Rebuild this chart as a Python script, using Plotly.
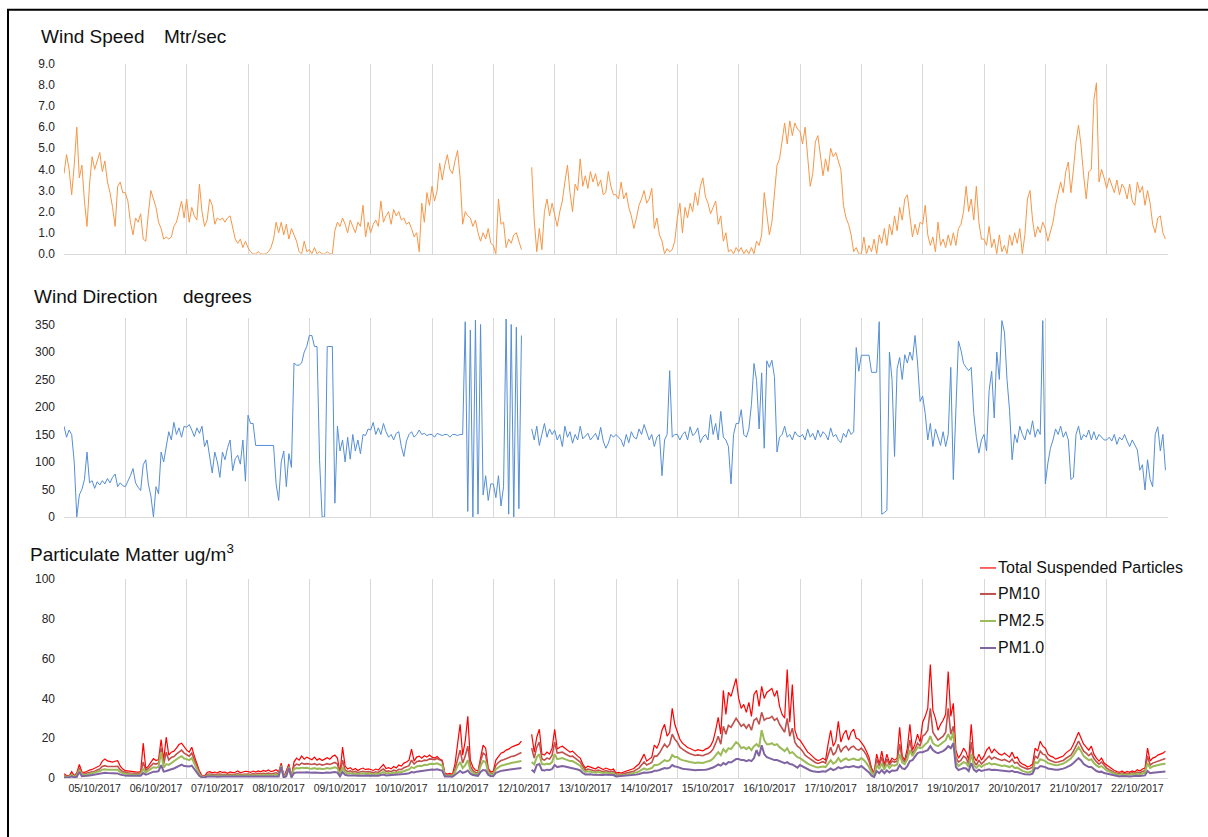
import plotly.graph_objects as go
import pandas as pd

# ---------------- data (hourly readings, one list per day, 05/10/2017 .. 22/10/2017) ----------------
wind_speed_days = [
    [3.8, 4.7, 4.0, 2.8, 4.2, 6.0, 3.6, 4.2, 2.5, 1.3, 3.3, 4.6, 4.0, 4.4, 4.8, 3.9, 4.4, 3.4, 2.9, 2.2, 1.3, 3.2, 3.4, 2.9],
    [2.9, 2.5, 1.5, 0.9, 1.7, 1.5, 1.9, 0.7, 0.6, 1.9, 3.0, 2.6, 2.2, 1.5, 1.2, 0.7, 0.8, 0.7, 0.8, 1.3, 1.5, 2.0, 2.5, 1.7],
    [2.6, 1.5, 2.2, 1.8, 1.6, 3.3, 2.0, 1.3, 1.6, 2.6, 2.3, 1.4, 1.7, 1.6, 1.7, 1.5, 1.7, 1.8, 1.2, 0.7, 0.5, 0.7, 0.3, 0.6],
    [0.3, 0.1, 0.0, 0.0, 0.1, 0.0, 0.0, 0.0, 0.1, 0.3, 0.7, 1.5, 1.0, 1.5, 0.9, 1.4, 0.7, 1.2, 0.9, 0.6, 0.1, 0.0, 0.6, 0.1],
    [0.2, 0.0, 0.3, 0.0, 0.1, 0.0, 0.0, 0.1, 0.0, 0.0, 1.1, 1.5, 1.3, 1.7, 1.4, 1.0, 1.6, 1.3, 1.0, 1.5, 1.3, 2.3, 0.8, 1.5],
    [1.0, 1.4, 1.6, 1.3, 2.5, 1.5, 1.8, 2.0, 1.4, 2.1, 1.8, 2.0, 1.6, 1.7, 1.4, 1.5, 1.2, 0.8, 1.0, 0.1, 2.4, 1.5, 2.9, 2.3],
    [3.2, 2.5, 3.0, 4.3, 3.5, 4.2, 4.7, 4.0, 3.8, 4.4, 4.9, 3.6, 1.4, 2.0, 1.8, 1.7, 1.3, 1.6, 1.0, 0.6, 1.0, 0.7, 1.2, 0.5],
    [0.4, 0.0, 2.6, 1.4, 1.5, 0.3, 0.7, 0.5, 0.9, 1.0, 0.6, 0.2, None, None, None, 4.1, 1.6, 0.1, 1.2, 0.2, 2.0, 2.6, 1.8, 2.4],
    [1.9, 1.3, 2.0, 2.5, 3.4, 4.2, 2.9, 2.0, 3.3, 3.0, 4.5, 3.2, 3.7, 3.1, 3.9, 3.4, 3.8, 3.2, 3.5, 2.8, 2.9, 3.9, 3.2, 2.8],
    [2.8, 2.6, 3.4, 2.6, 2.9, 2.2, 1.8, 1.2, 1.7, 2.3, 2.6, 3.0, 2.4, 2.6, 3.1, 1.2, 1.7, 0.9, 0.6, 0.0, 0.25, 0.1, 0.2, 0.6],
    [1.7, 2.4, 1.0, 2.2, 1.7, 2.4, 2.0, 2.9, 2.3, 3.2, 3.6, 2.7, 2.4, 1.9, 2.2, 2.5, 1.4, 1.8, 0.6, 1.0, 0.1, 0.2, 0.0, 0.3],
    [0.1, 0.3, 0.0, 0.2, 0.0, 0.3, 0.0, 0.6, 0.4, 0.9, 2.9, 1.8, 0.9, 1.5, 3.0, 4.2, 4.5, 5.4, 6.2, 5.2, 6.3, 5.6, 6.2, 5.9],
    [5.8, 5.2, 6.0, 4.6, 3.2, 3.8, 5.3, 5.6, 4.7, 3.7, 4.5, 3.9, 5.0, 4.6, 4.8, 4.4, 4.0, 2.3, 1.7, 1.4, 0.9, 0.1, 0.3, 0.0],
    [0.0, 0.8, 0.0, 0.4, 0.1, 0.7, 0.0, 0.9, 0.5, 1.2, 0.4, 1.4, 0.9, 1.8, 1.1, 2.2, 1.6, 2.6, 2.8, 1.8, 0.8, 1.4, 0.9, 1.5],
    [1.4, 2.3, 0.9, 0.4, 0.8, 0.1, 1.5, 0.4, 0.7, 0.3, 0.9, 0.4, 1.0, 0.4, 1.2, 1.4, 2.0, 3.2, 2.0, 2.6, 1.6, 3.2, 1.5, 0.7],
    [0.7, 0.4, 1.3, 0.3, 0.7, 0.0, 0.9, 0.1, 0.4, 0.0, 0.9, 0.4, 1.0, 0.5, 1.2, 0.0, 0.9, 2.6, 3.0, 1.6, 0.8, 1.3, 1.0, 1.5],
    [1.2, 0.6, 1.0, 1.5, 2.3, 2.9, 3.4, 2.9, 3.9, 4.35, 2.9, 4.0, 5.3, 6.1, 5.1, 3.7, 2.6, 3.9, 4.0, 7.3, 8.1, 3.4, 4.0, 3.6],
    [3.1, 3.6, 3.2, 2.9, 3.5, 2.8, 3.3, 3.1, 2.6, 3.3, 2.5, 2.3, 3.4, 2.9, 3.2, 2.3, 3.0, 2.4, 1.4, 1.0, 1.7, 1.8, 1.0, 0.7],
]

wind_dir_days = [
    [165, 145, 158, 150, 100, 0, 40, 50, 68, 118, 62, 66, 52, 64, 58, 66, 60, 70, 62, 72, 78, 55, 62, 57],
    [55, 64, 75, 88, 62, 54, 48, 95, 104, 60, 38, 0, 55, 42, 118, 100, 128, 155, 140, 172, 150, 162, 145, 165],
    [163, 168, 158, 146, 162, 152, 165, 128, 140, 112, 80, 118, 100, 72, 118, 104, 126, 140, 84, 106, 112, 96, 140, 65],
    [185, 170, 170, 130, 130, 130, 130, 130, 130, 130, 130, 60, 30, 100, 120, 55, 115, 90, 280, 276, 276, 280, 300, 310],
    [330, 330, 310, 310, 104, 0, 0, 310, 310, 310, 25, 165, 120, 140, 100, 145, 105, 150, 120, 140, 115, 150, 148, 160],
    [158, 172, 150, 162, 150, 170, 155, 145, 150, 140, 152, 155, 128, 110, 138, 150, 155, 145, 150, 158, 150, 152, 148, 150],
    [150, 145, 152, 150, 148, 150, 150, 145, 150, 150, 148, 150, 150, 355, 10, 340, 0, 358, 5, 350, 40, 75, 30, 60],
    [60, 35, 75, 20, 55, 360, 5, 350, 0, 345, 15, 330, None, None, None, 160, 140, 165, 130, 150, 170, 145, 160, 150],
    [158, 140, 150, 128, 165, 145, 155, 134, 150, 140, 165, 142, 148, 152, 140, 146, 152, 140, 163, 138, 125, 134, 150, 145],
    [150, 145, 140, 128, 150, 135, 155, 145, 142, 160, 150, 168, 155, 140, 150, 128, 145, 150, 75, 140, 150, 266, 145, 150],
    [150, 140, 150, 155, 140, 164, 148, 152, 162, 135, 145, 150, 140, 186, 150, 170, 140, 192, 145, 140, 128, 60, 150, 170],
    [170, 195, 150, 145, 160, 205, 279, 248, 160, 262, 125, 284, 272, 285, 255, 118, 145, 150, 165, 145, 150, 140, 155, 148],
    [146, 150, 140, 160, 145, 152, 140, 158, 145, 155, 150, 140, 162, 146, 150, 140, 135, 152, 145, 160, 150, 155, 308, 265],
    [294, 294, 294, 294, 263, 263, 263, 355, 5, 8, 12, 300, 250, 110, 270, 290, 250, 295, 280, 300, 285, 330, 280, 210],
    [220, 188, 140, 170, 128, 160, 145, 130, 155, 128, 150, 272, 68, 188, 320, 303, 279, 272, 266, 272, 188, 145, 116, 140],
    [150, 120, 230, 265, 180, 300, 250, 357, 336, 250, 194, 104, 150, 135, 165, 150, 140, 160, 150, 175, 145, 160, 150, 357],
    [60, 98, 125, 140, 160, 150, 165, 145, 155, 140, 68, 72, 150, 165, 140, 150, 145, 158, 140, 155, 140, 150, 145, 140],
    [140, 145, 138, 150, 132, 145, 140, 150, 138, 128, 140, 132, 122, 85, 95, 49, 104, 68, 55, 150, 164, 120, 150, 85],
]

tsp_days = [
    [2.2, 1.3, 1.0, 3.2, 1.2, 2.5, 6.8, 3.0, 2.8, 3.5, 4.0, 4.3, 4.8, 5.5, 6.2, 8.5, 9.6, 8.6, 8.3, 8.0, 8.4, 8.7, 6.0, 4.5],
    [3.7, 3.5, 3.3, 3.0, 3.1, 3.0, 3.2, 17.5, 4.7, 6.0, 8.0, 9.7, 8.8, 9.3, 19.3, 9.0, 20.5, 11.5, 13.0, 13.5, 15.0, 16.8, 17.5, 15.5],
    [14.0, 13.0, 15.5, 11.0, 7.0, 3.5, 1.2, 1.0, 2.8, 3.2, 2.6, 3.0, 2.5, 3.3, 2.8, 3.0, 2.4, 3.1, 2.7, 2.9, 3.5, 2.6, 3.0, 3.4],
    [3.2, 2.8, 3.5, 3.0, 3.6, 3.1, 3.8, 3.4, 4.0, 3.2, 3.6, 4.2, 3.0, 7.5, 0.5, 3.5, 7.0, 1.0, 8.0, 10.0, 9.0, 11.0, 9.5, 10.5],
    [10.0, 9.2, 10.5, 9.0, 9.8, 8.8, 9.5, 10.2, 9.4, 10.8, 11.5, 10.0, 2.5, 15.5, 6.0, 4.5, 5.2, 4.0, 4.8, 3.8, 4.5, 5.0, 4.2, 4.6],
    [4.3, 3.8, 4.5, 4.0, 5.5, 6.8, 4.8, 5.2, 4.6, 5.8, 5.0, 6.5, 6.0, 7.5, 8.0, 9.0, 14.5, 8.5, 10.5, 11.0, 10.0, 11.2, 10.5, 11.5],
    [10.5, 10.0, 10.8, 9.5, 9.0, 2.5, 2.0, 2.3, 1.8, 7.0, 17.0, 27.0, 11.5, 18.5, 31.0, 9.0, 5.5, 4.0, 3.5, 11.0, 16.5, 15.0, 5.0, 3.0],
    [3.5, 9.0, 11.0, 12.5, 13.0, 14.0, 14.5, 15.5, 16.0, 16.5, 17.0, 18.5, None, None, None, 22.0, 13.0, 20.5, 24.5, 12.0, 11.5, 13.0, 12.0, 15.0],
    [24.5, 14.5, 15.5, 16.0, 15.0, 14.0, 13.0, 13.5, 12.0, 11.0, 10.0, 7.0, 5.0, 6.0, 5.5, 5.0, 4.5, 5.5, 4.8, 4.2, 5.0, 4.5, 4.0, 4.5],
    [2.5, 2.8, 2.5, 3.0, 3.5, 4.0, 4.3, 4.8, 6.0, 7.0, 9.5, 12.0, 8.5, 9.5, 10.5, 16.5, 15.0, 18.0, 24.0, 27.0, 21.0, 23.0, 35.0, 27.0],
    [23.0, 19.5, 17.5, 16.5, 15.3, 14.8, 14.0, 13.6, 14.2, 13.8, 13.6, 14.5, 15.0, 16.2, 18.7, 24.0, 30.5, 22.0, 44.0, 32.0, 43.0, 41.0, 45.0, 50.0],
    [40.0, 35.0, 37.0, 33.0, 38.0, 31.0, 42.0, 44.0, 36.0, 46.0, 40.0, 43.0, 44.0, 45.0, 41.0, 44.0, 36.0, 32.0, 30.0, 54.5, 28.0, 47.0, 24.0, 20.0],
    [19.0, 17.0, 14.5, 13.0, 12.0, 10.5, 9.5, 8.8, 9.2, 10.0, 9.0, 17.0, 24.0, 16.0, 18.5, 28.5, 18.0, 22.0, 24.0, 19.0, 23.0, 24.5, 20.0, 19.5],
    [18.0, 16.0, 13.5, 10.5, 5.0, 2.5, 12.0, 7.0, 13.5, 6.5, 12.0, 7.5, 10.0, 9.0, 10.0, 25.5, 11.0, 9.0, 15.0, 27.0, 14.0, 17.0, 22.0, 18.0],
    [28.0, 31.0, 35.0, 57.0, 34.0, 30.0, 24.0, 27.0, 29.0, 32.0, 53.5, 31.0, 37.5, 14.0, 10.0, 12.0, 15.0, 13.0, 9.0, 27.0, 11.0, 8.5, 12.0, 9.0],
    [11.0, 14.0, 15.5, 12.5, 14.5, 13.0, 12.0, 11.5, 12.5, 11.5, 10.5, 13.0, 10.0, 10.5, 8.0, 7.0, 6.5, 5.5, 6.0, 7.0, 15.0, 13.5, 18.5, 16.0],
    [15.0, 12.0, 11.0, 10.5, 9.5, 10.0, 10.5, 11.0, 12.5, 13.5, 14.5, 17.0, 20.5, 23.0, 20.0, 17.0, 15.5, 14.0, 16.0, 12.0, 10.0, 8.5, 10.0, 7.5],
    [6.5, 5.5, 4.5, 3.8, 3.2, 2.8, 3.5, 2.6, 3.3, 2.9, 3.6, 3.0, 4.2, 3.5, 4.5, 5.0, 15.0, 8.5, 10.0, 10.5, 11.5, 12.0, 12.5, 13.5],
]

pm10_days = [
    [1.2, 0.8, 0.6, 2.2, 0.8, 1.8, 5.0, 2.0, 2.0, 2.5, 2.8, 3.0, 3.4, 4.0, 4.6, 5.8, 6.2, 5.8, 5.7, 5.6, 5.8, 5.9, 4.2, 3.2],
    [2.8, 2.6, 2.5, 2.3, 2.4, 2.3, 2.5, 8.0, 3.8, 4.8, 6.2, 7.3, 7.0, 7.5, 15.0, 7.0, 13.0, 9.0, 10.3, 10.8, 12.0, 13.2, 14.0, 12.5],
    [11.8, 11.0, 12.5, 9.0, 5.5, 2.5, 0.8, 0.6, 1.8, 2.0, 1.7, 1.9, 1.6, 2.0, 1.8, 1.9, 1.6, 1.9, 1.7, 1.8, 2.1, 1.7, 1.9, 2.1],
    [2.0, 1.8, 2.2, 1.9, 2.3, 2.0, 2.4, 2.1, 2.5, 2.0, 2.3, 2.6, 2.0, 6.5, 0.4, 2.5, 6.0, 0.8, 6.0, 7.0, 6.5, 7.5, 7.0, 7.2],
    [7.0, 6.8, 7.2, 6.6, 7.0, 6.5, 6.8, 7.2, 6.8, 7.3, 7.8, 7.0, 2.0, 9.0, 4.0, 3.2, 3.6, 2.9, 3.3, 2.8, 3.1, 3.4, 3.0, 3.2],
    [3.0, 2.7, 3.1, 2.8, 3.8, 4.5, 3.3, 3.6, 3.2, 4.0, 3.5, 4.4, 4.2, 5.2, 5.6, 6.2, 9.0, 7.0, 8.2, 8.6, 8.3, 9.0, 8.8, 9.6],
    [9.5, 9.2, 9.8, 9.0, 8.5, 1.8, 1.4, 1.6, 1.3, 4.5, 10.0, 14.0, 7.5, 11.0, 16.0, 6.0, 3.8, 2.8, 2.5, 8.5, 12.5, 11.5, 3.8, 2.2],
    [2.5, 6.5, 7.8, 8.8, 9.2, 9.8, 10.2, 10.8, 11.0, 11.5, 12.0, 12.8, None, None, None, 15.0, 10.0, 15.5, 18.0, 9.5, 9.0, 10.0, 9.5, 11.5],
    [18.0, 12.5, 12.8, 13.0, 12.2, 11.5, 10.8, 11.0, 9.8, 9.0, 8.0, 5.5, 3.8, 4.5, 4.2, 3.8, 3.4, 4.0, 3.6, 3.2, 3.7, 3.4, 3.0, 3.3],
    [1.8, 2.0, 1.8, 2.2, 2.5, 2.8, 3.0, 3.4, 4.2, 5.0, 6.5, 8.0, 6.5, 7.2, 7.8, 11.0, 11.0, 12.5, 15.0, 17.0, 15.5, 17.0, 22.0, 19.5],
    [18.0, 15.5, 14.5, 13.5, 12.8, 12.2, 11.6, 11.3, 11.6, 11.4, 11.2, 11.8, 12.2, 13.0, 14.5, 17.5, 21.0, 17.0, 26.0, 22.0, 26.5, 25.5, 27.5, 30.0],
    [28.0, 26.0, 27.0, 25.0, 27.0, 24.0, 29.0, 30.0, 27.0, 33.0, 29.0, 30.0, 30.0, 31.0, 29.0, 30.0, 27.0, 25.0, 23.0, 30.0, 21.0, 25.0, 18.0, 16.0],
    [15.0, 13.5, 11.5, 10.5, 9.5, 8.5, 7.8, 7.3, 7.6, 8.2, 7.5, 12.0, 15.5, 11.5, 13.0, 17.0, 13.0, 15.0, 16.0, 14.0, 15.5, 16.0, 14.5, 14.0],
    [15.0, 13.5, 11.5, 8.5, 4.0, 2.0, 9.5, 6.0, 10.5, 5.5, 9.5, 6.5, 8.5, 8.0, 8.5, 17.0, 9.5, 8.0, 12.0, 19.0, 12.0, 14.5, 17.5, 16.0],
    [21.0, 22.0, 24.0, 35.0, 23.0, 21.0, 19.0, 20.0, 21.0, 23.0, 35.0, 22.0, 26.0, 10.5, 8.0, 9.0, 11.0, 10.0, 7.0, 18.0, 8.5, 6.5, 9.0, 7.0],
    [8.5, 10.0, 11.0, 9.5, 10.5, 9.8, 9.2, 8.8, 9.3, 8.7, 8.0, 9.5, 7.5, 7.8, 6.2, 5.5, 5.0, 4.5, 4.8, 5.5, 11.0, 10.0, 13.5, 12.0],
    [11.5, 9.5, 8.8, 8.4, 7.8, 8.0, 8.4, 8.8, 9.8, 10.5, 11.5, 13.5, 16.0, 18.5, 16.0, 13.5, 12.5, 11.2, 12.5, 9.8, 8.2, 7.0, 8.0, 6.2],
    [5.0, 4.2, 3.4, 2.8, 2.4, 2.1, 2.6, 2.0, 2.4, 2.2, 2.7, 2.3, 3.0, 2.6, 3.3, 3.6, 11.0, 6.5, 7.5, 8.0, 8.5, 9.0, 9.2, 9.8],
]

pm25_days = [
    [0.8, 0.6, 0.5, 1.6, 0.6, 1.3, 4.0, 1.6, 1.5, 1.8, 2.1, 2.3, 2.6, 3.0, 3.5, 4.2, 4.4, 4.2, 4.1, 4.0, 4.1, 4.2, 3.0, 2.4],
    [2.0, 1.9, 1.8, 1.7, 1.8, 1.7, 1.9, 4.5, 2.8, 3.5, 4.6, 5.4, 5.2, 5.6, 13.0, 5.2, 7.0, 6.6, 7.6, 8.2, 9.3, 10.3, 11.0, 9.8],
    [9.5, 9.0, 10.0, 7.0, 4.2, 1.8, 0.6, 0.5, 1.2, 1.4, 1.2, 1.3, 1.1, 1.4, 1.3, 1.3, 1.1, 1.3, 1.2, 1.3, 1.4, 1.2, 1.3, 1.4],
    [1.3, 1.2, 1.4, 1.3, 1.5, 1.3, 1.6, 1.4, 1.6, 1.3, 1.5, 1.7, 1.3, 6.0, 0.3, 1.8, 5.5, 0.6, 4.5, 5.0, 4.8, 5.2, 5.0, 5.1],
    [4.8, 4.7, 5.0, 4.6, 4.8, 4.5, 4.7, 5.0, 4.7, 5.1, 5.4, 4.9, 1.5, 5.5, 2.8, 2.3, 2.5, 2.1, 2.3, 2.0, 2.2, 2.4, 2.1, 2.3],
    [2.1, 1.9, 2.2, 2.0, 2.6, 3.0, 2.3, 2.5, 2.2, 2.8, 2.4, 3.0, 2.9, 3.6, 3.9, 4.3, 5.5, 5.0, 5.8, 6.1, 6.0, 6.6, 6.5, 7.0],
    [7.2, 7.0, 7.4, 6.8, 6.3, 1.3, 1.0, 1.2, 1.0, 3.0, 6.0, 8.0, 5.0, 6.5, 9.0, 4.0, 2.6, 2.0, 1.8, 6.0, 8.5, 8.0, 2.8, 1.6],
    [1.8, 4.5, 5.5, 6.2, 6.5, 7.0, 7.2, 7.5, 7.8, 8.0, 8.3, 8.6, None, None, None, 8.0, 6.8, 10.5, 12.0, 7.0, 6.8, 7.2, 7.0, 8.0],
    [12.0, 9.5, 9.8, 10.0, 9.5, 9.0, 8.5, 8.5, 7.8, 7.0, 6.2, 4.2, 3.0, 3.4, 3.2, 2.9, 2.6, 3.0, 2.7, 2.5, 2.8, 2.6, 2.3, 2.5],
    [1.3, 1.4, 1.3, 1.5, 1.7, 1.9, 2.1, 2.3, 2.8, 3.3, 4.0, 4.8, 4.2, 4.6, 5.0, 6.5, 6.5, 7.0, 8.0, 9.0, 8.5, 9.0, 11.5, 10.5],
    [10.5, 9.5, 9.0, 8.6, 8.3, 8.0, 7.8, 7.6, 7.8, 7.7, 7.6, 8.0, 8.3, 8.8, 9.8, 11.5, 13.0, 11.5, 14.5, 13.0, 15.0, 14.5, 16.0, 18.0],
    [17.0, 15.0, 15.5, 14.5, 15.5, 14.0, 16.0, 17.0, 15.5, 24.0, 19.0, 17.0, 17.0, 17.5, 16.5, 17.0, 15.5, 14.5, 13.5, 15.0, 12.5, 13.0, 11.5, 10.5],
    [10.0, 9.0, 8.0, 7.2, 6.6, 6.0, 5.6, 5.3, 5.5, 5.8, 5.5, 7.5, 9.0, 7.2, 8.0, 10.0, 8.2, 9.2, 9.8, 9.0, 9.5, 9.8, 9.2, 9.0],
    [10.0, 9.0, 7.5, 5.5, 2.8, 1.3, 6.5, 4.5, 7.5, 4.2, 7.0, 5.0, 6.5, 6.2, 6.8, 12.0, 7.8, 7.0, 9.5, 14.0, 11.0, 13.0, 15.5, 15.0],
    [15.5, 17.0, 18.0, 21.0, 17.5, 16.5, 16.0, 17.0, 18.0, 19.0, 22.0, 19.0, 23.0, 8.0, 6.0, 7.0, 8.0, 7.5, 5.5, 12.0, 6.5, 5.0, 6.5, 5.5],
    [6.5, 7.0, 7.5, 6.8, 7.2, 6.8, 6.4, 6.0, 6.3, 5.9, 5.5, 6.2, 5.0, 5.2, 4.2, 3.6, 3.2, 2.8, 3.0, 3.6, 8.0, 7.5, 9.5, 9.0],
    [8.5, 7.5, 7.0, 6.8, 6.4, 6.5, 6.8, 7.2, 8.0, 8.8, 9.8, 11.5, 13.5, 15.5, 13.5, 11.0, 10.0, 9.0, 9.5, 7.5, 6.3, 5.5, 6.0, 4.8],
    [3.8, 3.2, 2.6, 2.1, 1.8, 1.6, 1.9, 1.5, 1.8, 1.6, 2.0, 1.7, 2.2, 1.9, 2.4, 2.6, 7.5, 5.0, 5.8, 6.2, 6.5, 6.8, 7.0, 7.2],
]

pm1_days = [
    [0.3, 0.2, 0.2, 0.8, 0.3, 0.6, 3.0, 0.9, 0.9, 1.1, 1.3, 1.5, 1.7, 1.9, 2.2, 2.5, 2.6, 2.5, 2.5, 2.4, 2.4, 2.3, 1.7, 1.3],
    [1.2, 1.1, 1.1, 1.0, 1.0, 1.0, 1.1, 2.5, 1.7, 2.1, 2.7, 3.2, 3.1, 3.4, 6.5, 3.2, 3.5, 3.8, 4.4, 4.8, 5.5, 6.2, 6.7, 6.0],
    [6.0, 5.8, 6.2, 4.5, 2.6, 1.0, 0.3, 0.3, 0.7, 0.8, 0.7, 0.7, 0.6, 0.8, 0.7, 0.7, 0.6, 0.7, 0.7, 0.7, 0.8, 0.7, 0.7, 0.8],
    [0.7, 0.7, 0.8, 0.7, 0.8, 0.7, 0.9, 0.8, 0.9, 0.7, 0.8, 0.9, 0.7, 5.5, 0.1, 1.0, 5.0, 0.3, 2.5, 2.8, 2.7, 2.9, 2.8, 2.9],
    [2.7, 2.6, 2.8, 2.6, 2.7, 2.5, 2.6, 2.8, 2.6, 2.8, 3.0, 2.7, 0.8, 3.0, 1.6, 1.3, 1.4, 1.2, 1.3, 1.2, 1.3, 1.4, 1.2, 1.3],
    [1.2, 1.1, 1.3, 1.1, 1.5, 1.7, 1.3, 1.4, 1.3, 1.6, 1.4, 1.7, 1.7, 2.0, 2.2, 2.4, 3.0, 2.8, 3.2, 3.4, 3.4, 3.8, 3.8, 4.2],
    [4.3, 4.2, 4.4, 4.0, 3.7, 0.8, 0.6, 0.7, 0.6, 1.5, 2.8, 3.5, 2.6, 3.0, 3.8, 2.2, 1.5, 1.2, 1.1, 3.0, 4.0, 3.8, 1.6, 0.9],
    [1.0, 2.6, 3.2, 3.6, 3.8, 4.0, 4.2, 4.3, 4.5, 4.6, 4.8, 5.0, None, None, None, 4.2, 3.0, 6.5, 7.0, 4.0, 3.8, 4.2, 4.0, 4.5],
    [6.5, 5.5, 5.8, 6.0, 5.8, 5.5, 5.2, 5.2, 4.8, 4.3, 3.8, 2.5, 1.8, 2.0, 1.9, 1.7, 1.6, 1.8, 1.6, 1.5, 1.7, 1.6, 1.4, 1.5],
    [0.8, 0.9, 0.8, 0.9, 1.0, 1.1, 1.2, 1.4, 1.7, 2.0, 2.4, 2.8, 2.6, 2.8, 3.0, 3.6, 3.6, 4.0, 4.5, 5.0, 4.8, 5.2, 6.5, 5.8],
    [5.6, 5.0, 4.7, 4.5, 4.3, 4.1, 4.0, 3.9, 4.0, 4.0, 3.9, 4.2, 4.4, 4.8, 5.3, 6.0, 6.8, 6.2, 7.5, 6.8, 8.0, 7.8, 8.5, 9.5],
    [9.5, 9.0, 9.0, 8.5, 9.0, 8.5, 10.0, 14.0, 11.0, 16.5, 12.0, 10.5, 10.0, 9.5, 9.0, 9.0, 8.5, 8.0, 7.5, 8.0, 7.0, 6.8, 6.0, 5.2],
    [6.5, 5.8, 5.0, 4.3, 3.8, 3.4, 3.2, 3.0, 3.2, 3.4, 3.2, 4.0, 4.8, 4.0, 4.5, 5.5, 4.8, 5.2, 5.8, 5.4, 5.8, 6.0, 5.5, 5.3],
    [6.0, 5.0, 4.0, 2.8, 1.2, 0.5, 3.5, 2.5, 4.0, 2.4, 3.8, 2.8, 3.8, 3.6, 4.0, 6.5, 4.8, 4.5, 6.0, 8.5, 9.0, 11.0, 12.5, 13.0],
    [13.0, 13.5, 14.0, 16.0, 14.0, 13.0, 12.5, 13.0, 13.5, 14.5, 16.0, 15.0, 17.5, 5.5, 4.0, 4.5, 5.0, 4.8, 3.5, 7.5, 4.2, 3.2, 4.2, 3.5],
    [4.0, 4.2, 4.4, 4.0, 4.2, 4.0, 3.8, 3.6, 3.7, 3.5, 3.3, 3.6, 3.0, 3.0, 2.5, 2.2, 1.9, 1.7, 1.8, 2.2, 5.0, 4.8, 6.0, 5.8],
    [5.5, 4.8, 4.5, 4.3, 4.1, 4.2, 4.4, 4.7, 5.2, 5.8, 6.5, 7.6, 8.8, 10.0, 8.8, 7.0, 6.2, 5.5, 5.5, 4.3, 3.5, 3.0, 3.2, 2.5],
    [2.2, 1.8, 1.4, 1.1, 0.9, 0.8, 1.0, 0.8, 0.9, 0.8, 1.0, 0.9, 1.1, 1.0, 1.2, 1.3, 3.5, 2.4, 2.6, 2.8, 3.0, 3.1, 3.2, 3.3],
]

start_date = "2017-10-05"
end_date = "2017-10-23"
series_names = ["Total Suspended Particles", "PM10", "PM2.5", "PM1.0"]
panel_titles = [("Wind Speed", "Mtr/sec"), ("Wind Direction", "degrees"), ("Particulate Matter ug/m<sup>3</sup>", None)]


def flat(days):
    out = []
    for d in days:
        out.extend(d)
    return out


wind_speed = flat(wind_speed_days)
wind_dir = flat(wind_dir_days)
tsp = flat(tsp_days)
pm10 = flat(pm10_days)
pm25 = flat(pm25_days)
pm1 = flat(pm1_days)
times = pd.date_range(start_date, periods=len(wind_speed), freq="h")

# ---------------- styling ----------------
W, H = 1208, 837
FONT = "Liberation Sans, Arial, Helvetica, sans-serif"
GRID = "#D9D9D9"
TXT = "#262626"

# the captured picture maps page rows as: shown = 0.983 * page + 6.2
Y_SCALE, Y_OFF = 0.983, 6.2


def fx(px):
    return px / W


def fy(py):
    page = (py - Y_OFF) / Y_SCALE
    return 1 - page / H


PLOT_L, PLOT_R = 64, 1168
panels = {  # top, bottom pixel rows of each plot area (as seen in the reference)
    1: (63, 253),
    2: (317, 516),
    3: (578, 777),
}

colors = {
    "ws": "#F79646",
    "wd": "#558ED5",
    "tsp": "#FF0000",
    "pm10": "#C0504D",
    "pm25": "#9BBB59",
    "pm1": "#8064A2",
}

fig = go.Figure()
fig.add_trace(go.Scatter(x=times, y=wind_speed, mode="lines", name="Wind Speed",
                         line=dict(color=colors["ws"], width=1), xaxis="x", yaxis="y",
                         connectgaps=False, showlegend=False))
fig.add_trace(go.Scatter(x=times, y=wind_dir, mode="lines", name="Wind Direction",
                         line=dict(color=colors["wd"], width=1), xaxis="x2", yaxis="y2",
                         connectgaps=False, showlegend=False))
for name, vals, col, w in [
    (series_names[0], tsp, colors["tsp"], 1.2),
    (series_names[1], pm10, colors["pm10"], 1.6),
    (series_names[2], pm25, colors["pm25"], 2.0),
    (series_names[3], pm1, colors["pm1"], 2.0),
]:
    fig.add_trace(go.Scatter(x=times, y=vals, mode="lines", name=name,
                             line=dict(color=col, width=w), xaxis="x3", yaxis="y3",
                             connectgaps=False, showlegend=False))

xbase = dict(
    type="date", range=[start_date, end_date], tick0=start_date, dtick=86400000,
    showgrid=True, gridcolor=GRID, gridwidth=1, showline=True, linecolor=GRID, linewidth=1,
    zeroline=False, ticks="", ticklabelmode="period", tickformat="%d/%m/%Y",
    tickfont=dict(family=FONT, size=10.5, color=TXT), domain=[fx(PLOT_L), fx(PLOT_R)],
)
ybase = dict(showgrid=False, zeroline=False, showline=False, ticks="",
             tickfont=dict(family=FONT, size=12, color=TXT), ticklabelstandoff=8)


def ydom(k):
    top, bot = panels[k]
    return [fy(bot), fy(top)]


layout = dict(
    width=W, height=H, autosize=False, margin=dict(l=0, r=0, t=0, b=0, pad=0),
    paper_bgcolor="white", plot_bgcolor="white", showlegend=False,
    font=dict(family=FONT, color=TXT),
    xaxis=dict(xbase, anchor="y", showticklabels=False),
    xaxis2=dict(xbase, anchor="y2", showticklabels=False),
    xaxis3=dict(xbase, anchor="y3", showticklabels=True),
    yaxis=dict(ybase, anchor="x", domain=ydom(1), range=[0, 9], tickvals=list(range(0, 10)),
               tickformat=".1f"),
    yaxis2=dict(ybase, anchor="x2", domain=ydom(2), range=[0, 362], tickvals=list(range(0, 351, 50))),
    yaxis3=dict(ybase, anchor="x3", domain=ydom(3), range=[0, 100], tickvals=list(range(0, 101, 20))),
)
fig.update_layout(**layout)

# panel titles
title_font = dict(family=FONT, size=19, color="#111111")
annots = [
    dict(text=panel_titles[0][0], x=fx(39), y=fy(36)),
    dict(text=panel_titles[0][1], x=fx(162), y=fy(36)),
    dict(text=panel_titles[1][0], x=fx(32), y=fy(296)),
    dict(text=panel_titles[1][1], x=fx(181), y=fy(296)),
    dict(text=panel_titles[2][0], x=fx(28), y=fy(552)),
]
for a in annots:
    fig.add_annotation(xref="paper", yref="paper", xanchor="left", yanchor="middle",
                       showarrow=False, font=title_font, **a)

# manual legend (short line keys)
legend_rows = [(series_names[0], colors["tsp"], 567), (series_names[1], colors["pm10"], 593),
               (series_names[2], colors["pm25"], 620), (series_names[3], colors["pm1"], 647)]
for name, col, yy in legend_rows:
    fig.add_shape(type="line", xref="paper", yref="paper", x0=fx(980), x1=fx(996),
                  y0=fy(yy), y1=fy(yy), line=dict(color=col, width=2 if name != series_names[0] else 1.2))
    fig.add_annotation(xref="paper", yref="paper", x=fx(996), y=fy(yy), xanchor="left", yanchor="middle",
                       text=name, showarrow=False, font=dict(family=FONT, size=16, color="#111111"))

# outer frame
fig.add_shape(type="rect", xref="paper", yref="paper", x0=fx(8), x1=1.02, y0=-0.02, y1=fy(9),
              line=dict(color="black", width=2), fillcolor="rgba(0,0,0,0)", layer="above")

fig.write_html(
    "out.html",
    include_plotlyjs=True,
    config={"displayModeBar": False},
    post_script="document.body.style.margin='0px';document.body.style.overflow='hidden';"
                "document.documentElement.style.overflow='hidden';",
)
